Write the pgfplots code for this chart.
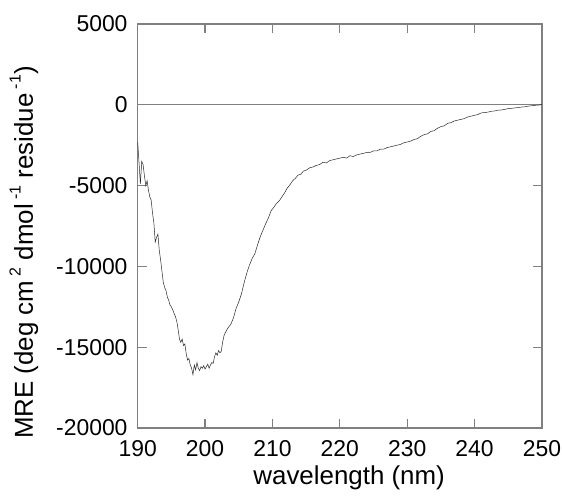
\documentclass[border=0pt]{standalone}
\usepackage{fontspec}
\setmainfont{Liberation Sans}
\usepackage{pgfplots}
\pgfplotsset{compat=1.18}

% CD spectrum, values
\pgfplotstableread{
lambda mre
190.0 -2300
190.2 -3600
190.4 -4900
190.6 -3500
190.8 -3700
191.0 -4400
191.2 -5000
191.4 -4700
191.6 -5300
191.8 -5700
192.0 -5900
192.2 -6700
192.4 -7300
192.6 -8500
192.8 -8200
193.0 -8000
193.2 -9000
193.4 -9600
193.6 -10300
193.8 -11000
194.0 -11300
194.2 -11500
194.4 -11900
194.6 -12100
194.8 -12400
195.0 -12500
195.2 -12700
195.4 -12900
195.6 -13100
195.8 -13400
196.0 -13900
196.2 -14500
196.4 -14700
196.6 -14500
196.8 -14900
197.0 -14800
197.2 -15400
197.4 -15800
197.6 -15700
197.8 -16100
198.0 -16300
198.2 -16700
198.4 -16100
198.6 -16400
198.8 -15950
199.0 -16300
199.2 -16450
199.4 -16200
199.6 -16300
199.8 -16150
200.0 -16350
200.2 -16200
200.4 -16050
200.6 -16300
200.8 -16100
201.0 -15950
201.2 -16000
201.4 -15600
201.6 -15350
201.8 -15500
202.0 -15200
202.2 -15350
202.4 -15250
202.6 -14700
202.8 -14300
203.0 -14100
203.4 -13800
203.8 -13600
204.2 -13200
204.6 -12600
205.0 -12200
205.4 -11700
205.8 -11000
206.2 -10400
206.6 -9900
207.0 -9500
207.4 -9200
207.8 -8650
208.2 -8150
208.6 -7750
209.0 -7350
209.4 -7000
209.8 -6550
210.2 -6350
210.6 -6100
211.0 -5950
211.4 -5700
211.8 -5450
212.2 -5150
212.6 -4950
213.0 -4700
213.4 -4550
213.8 -4350
214.2 -4300
214.6 -4100
215.0 -4050
215.5 -3900
216.0 -3850
216.5 -3750
217.0 -3700
217.5 -3550
218.0 -3600
218.5 -3450
219.0 -3400
219.5 -3350
220.0 -3300
220.5 -3250
221.0 -3300
221.5 -3150
222.0 -3200
222.5 -3100
223.0 -3050
223.5 -3000
224.0 -2950
224.5 -2950
225.0 -2850
225.5 -2850
226.0 -2750
226.5 -2750
227.0 -2650
227.5 -2600
228.0 -2550
228.5 -2500
229.0 -2450
229.5 -2350
230.0 -2300
230.5 -2250
231.0 -2150
231.5 -2100
232.0 -1950
232.5 -1850
233.0 -1800
233.5 -1650
234.0 -1600
234.5 -1450
235.0 -1350
235.5 -1300
236.0 -1150
236.5 -1100
237.0 -1000
237.5 -950
238.0 -900
238.5 -850
239.0 -750
239.5 -700
240.0 -650
240.5 -600
241.0 -500
241.5 -480
242.0 -450
242.5 -400
243.0 -380
243.5 -330
244.0 -320
244.5 -280
245.0 -230
245.5 -220
246.0 -190
246.5 -170
247.0 -140
247.5 -120
248.0 -80
248.5 -60
249.0 -30
249.5 -20
250.0 20
}\cdspec

\begin{document}
\begin{tikzpicture}
\useasboundingbox (-137.7bp,-70bp) rectangle (424.3bp,428bp);
\begin{axis}[
  scale only axis,
  width=404.3bp, height=404bp,
  xmin=190, xmax=250, ymin=-20000, ymax=5000,
  xtick={190,200,...,250},
  ytick={-20000,-15000,...,5000},
  xtick pos=both, ytick pos=both,
  scaled y ticks=false,
  /pgf/number format/1000 sep={},
  /pgf/number format/assume math mode=true,
  axis line style={gray, line width=1.3bp},
  major tick style={gray, line width=1.2bp},
  tickwidth=9bp,
  tick align=inside,
  ticklabel style={font=\fontsize{23}{27}\selectfont, inner sep=0pt},
  xticklabel style={anchor=north, yshift=-12bp},
  yticklabel style={anchor=east, xshift=-10bp},
  xlabel={wavelength (nm)},
  ylabel={MRE (deg cm\,\raisebox{0.9ex}{\fontsize{16}{18}\selectfont 2} dmol\,\raisebox{0.9ex}{\fontsize{16}{18}\selectfont -1} residue\,\raisebox{0.9ex}{\fontsize{16}{18}\selectfont -1})},
  every axis x label/.style={at={(axis description cs:0.523,-0.141)}, anchor=base,
    inner sep=0pt, font=\fontsize{26}{30}\selectfont},
  every axis y label/.style={at={(axis description cs:-0.259,0.434)}, rotate=90,
    anchor=base, inner sep=0pt, font=\fontsize{26}{30}\selectfont},
]
\draw[gray, line width=1.3bp] (axis cs:190,0) -- (axis cs:250,0);
\addplot[black!85, line width=0.5bp, no marks] table[x=lambda, y=mre] {\cdspec};
\end{axis}
\end{tikzpicture}
\end{document}
